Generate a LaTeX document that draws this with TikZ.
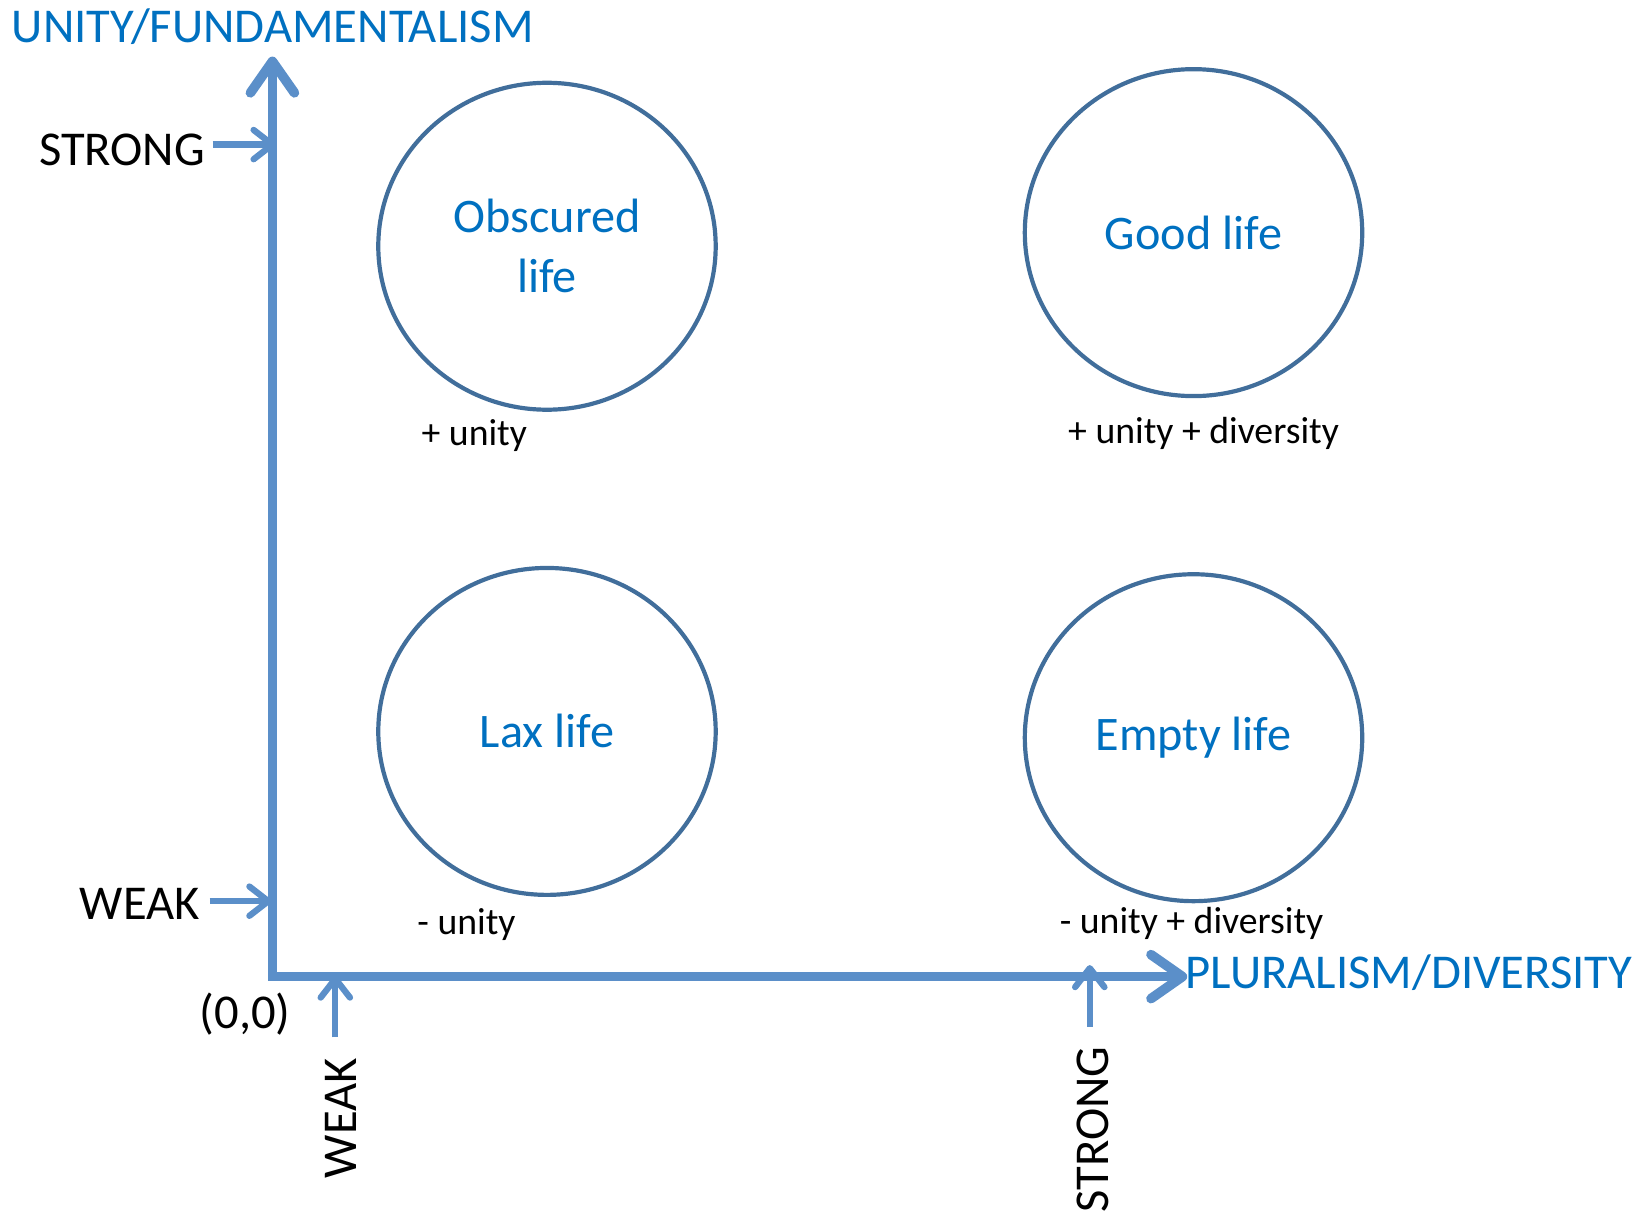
\documentclass[tikz,border=0pt]{standalone}
\usepackage{fontspec}
\setmainfont{Carlito}
\usetikzlibrary{arrows.meta,shapes.geometric}
\definecolor{axisblue}{RGB}{91,143,201}
\definecolor{ringblue}{RGB}{65,110,155}
\definecolor{textblue}{RGB}{0,112,192}
\tikzset{
  axisline/.style={draw=axisblue,line width=4.6pt,line cap=butt,
    -{Straight Barb[length=15pt,width=21pt,line width=4.6pt,round]}},
  tickarrow/.style={draw=axisblue,line width=3pt,
    -{Straight Barb[length=9pt,width=14pt,line width=3pt,round]}},
  ring/.style={draw=ringblue,line width=2pt,ellipse,minimum width=161pt,minimum height=156pt,
    text=textblue,font=\fontsize{23}{28}\selectfont,align=center,inner sep=0pt},
  bigtext/.style={font=\fontsize{23.2}{27}\selectfont,inner sep=0pt},
  axtitle/.style={bigtext,text=textblue},
  smalltext/.style={font=\fontsize{18}{22}\selectfont,inner sep=0pt,anchor=west}
}
\begin{document}
\begin{tikzpicture}[x=0.5pt,y=-0.5pt]
\useasboundingbox (0,0) rectangle (1567,1156);
% axes
\coordinate (Ytip) at (260,54);
\coordinate (Xtip) at (1133,932);
\coordinate (Ocorner) at (260,936);
\coordinate (Ocornerx) at (256,932);
\draw[axisline] (Ocorner) -- (Ytip);
\draw[axisline] (Ocornerx) -- (Xtip);
% axis titles
\node[axtitle,anchor=west] (ytitle) at (11,25) {UNITY/FUNDAMENTALISM};
\node[axtitle,anchor=west] (xtitle) at (1131,928) {PLURALISM/DIVERSITY};
% tick labels and arrows
\node[bigtext,anchor=east] (ystrong) at (196,143) {STRONG};
\node[bigtext,anchor=east] (yweak) at (191,863) {WEAK};
\node[bigtext] (origin) at (234,968) {(0,0)};
\node[bigtext,rotate=90] (xweak) at (325,1067) {WEAK};
\node[bigtext,rotate=90] (xstrong) at (1043,1078) {STRONG};
\coordinate (ys0) at (203,138);
\coordinate (ys1) at (263,138);
\coordinate (yw0) at (200,860);
\coordinate (yw1) at (259,860);
\coordinate (xw0) at (320,990);
\coordinate (xw1) at (320,931);
\coordinate (xs0) at (1040,980);
\coordinate (xs1) at (1040,921);
\draw[tickarrow] (ys0) -- (ys1);
\draw[tickarrow] (yw0) -- (yw1);
\draw[tickarrow] (xw0) -- (xw1);
\draw[tickarrow] (xs0) -- (xs1);
% circles
\node[ring] (obscured) at (522,235) {Obscured\\[0.5pt]life};
\node[ring] (good) at (1139,222) {Good life};
\node[ring] (lax) at (522,698) {Lax life};
\node[ring] (empty) at (1139,704) {Empty life};
% small labels
\node[smalltext] (l1) at (402,416) {+ unity};
\node[smalltext] (l2) at (1019,414) {+ unity + diversity};
\node[smalltext] (l3) at (398,882) {- unity};
\node[smalltext] (l4) at (1011,881) {- unity + diversity};
\end{tikzpicture}
\end{document}
